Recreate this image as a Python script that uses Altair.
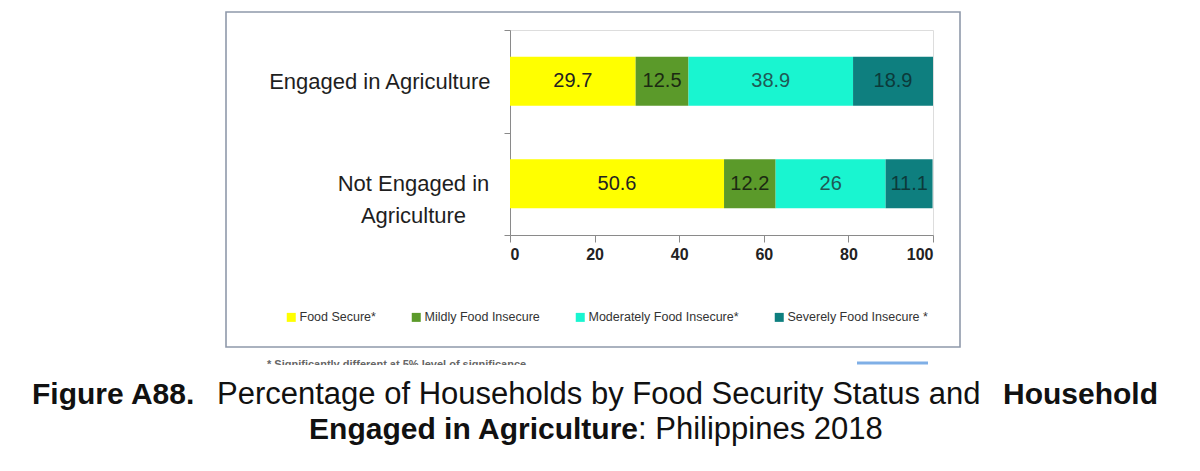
import altair as alt
import pandas as pd

groups = ["Engaged in Agriculture", "Not Engaged in Agriculture"]
statuses = ["Food Secure*", "Mildly Food Insecure", "Moderately Food Insecure*", "Severely Food Insecure *"]
engaged = [29.7, 12.5, 38.9, 18.9]
not_engaged = [50.6, 12.2, 26, 11.1]

bar_colors = ["#FFFF00", "#5B9A2A", "#19F5D0", "#0E7F7F"]
label_colors = ["#222222", "#1C2A12", "#1F5A55", "#0C3A3A"]
FONT = "Liberation Sans"

rows = []
for g, vals in zip(groups, [engaged, not_engaged]):
    for i, (s, v) in enumerate(zip(statuses, vals)):
        rows.append({"group": g, "status": s, "value": v, "order": i})
df = pd.DataFrame(rows)

y_enc = alt.Y(
    "group:N",
    sort=groups,
    title=None,
    scale=alt.Scale(paddingInner=0, paddingOuter=0),
    axis=alt.Axis(
        tickBand="extent",
        tickSize=6,
        tickColor="#8a8a8a",
        domainColor="#8a8a8a",
        labelFont=FONT,
        labelFontSize=22,
        labelColor="#1e1e1e",
        labelLimit=0,
        labelLineHeight=32,
        labelExpr="datum.value == 'Not Engaged in Agriculture' ? ['Not Engaged in', 'Agriculture'] : datum.label",
        labelAlign={"condition": {"test": "datum.value == 'Engaged in Agriculture'", "value": "right"}, "value": "center"},
        labelPadding={"condition": {"test": "datum.value == 'Engaged in Agriculture'", "value": 14}, "value": 91},
    ),
)

bars = alt.Chart(df).mark_bar(height=alt.RelativeBandSize(0.48)).encode(
    x=alt.X(
        "value:Q",
        stack="zero",
        title=None,
        scale=alt.Scale(domain=[0, 100]),
        axis=alt.Axis(
            values=[0, 20, 40, 60, 80, 100],
            grid=False,
            tickSize=7,
            tickColor="#8a8a8a",
            domainColor="#8a8a8a",
            labelFont=FONT,
            labelFontSize=16,
            labelFontWeight="bold",
            labelColor="#222222",
            labelPadding=4,
        ),
    ),
    y=y_enc,
    color=alt.Color(
        "status:N",
        sort=statuses,
        scale=alt.Scale(domain=statuses, range=bar_colors),
        legend=alt.Legend(
            title=None,
            orient="none",
            legendX=-225,
            legendY=281,
            direction="horizontal",
            symbolType="square",
            symbolSize=81,
            symbolStrokeWidth=0,
            labelFont=FONT,
            labelFontSize=12.5,
            labelColor="#333333",
            labelOffset=2,
            columnPadding=34,
            padding=0,
        ),
    ),
    order=alt.Order("order:Q"),
)

labels = alt.Chart(df).transform_stack(
    stack="value", as_=["x0", "x1"], groupby=["group"], sort=[alt.SortField("order")]
).transform_calculate(
    mid="(datum.x0 + datum.x1) / 2"
).mark_text(font=FONT, fontSize=20, baseline="middle").encode(
    x="mid:Q",
    y=alt.Y("group:N", sort=groups),
    text=alt.Text("value:Q", format="~g"),
    color=alt.Color("status:N", scale=alt.Scale(domain=statuses, range=label_colors), legend=None),
)

# frame round the chart, as in the source figure
frame = alt.Chart().mark_rect(fill=None, stroke="#8f99aa", strokeWidth=1.6).encode(
    x=alt.value(-284), x2=alt.value(450), y=alt.value(-18), y2=alt.value(317)
)

footnote = alt.Chart().mark_text(
    text="* Significantly different at 5% level of significance",
    font=FONT, fontSize=11, fontWeight="bold", color="#666666", align="left", baseline="alphabetic",
).encode(x=alt.value(-243), y=alt.value(338))
cover = alt.Chart().mark_rect(fill="white").encode(
    x=alt.value(-260), x2=alt.value(60), y=alt.value(335), y2=alt.value(345)
)
blue = alt.Chart().mark_rule(color="#5f9be0", strokeWidth=3, opacity=0.8).encode(
    x=alt.value(347), x2=alt.value(418), y=alt.value(333)
)

cap = dict(font=FONT, color="#111111", baseline="alphabetic")
cap1a = alt.Chart().mark_text(text="Figure A88.", fontSize=30, fontWeight="bold", align="left", **cap).encode(
    x=alt.value(-478), y=alt.value(374))
cap1b = alt.Chart().mark_text(
    text="Percentage of Households by Food Security Status and", fontSize=31, align="left", **cap
).encode(x=alt.value(-293), y=alt.value(374))
cap1c = alt.Chart().mark_text(text="Household", fontSize=30, fontWeight="bold", align="right", **cap).encode(
    x=alt.value(648), y=alt.value(374))
cap2a = alt.Chart().mark_text(
    text="Engaged in Agriculture", fontSize=30, fontWeight="bold", align="right", **cap
).encode(x=alt.value(128), y=alt.value(409))
cap2b = alt.Chart().mark_text(text=": Philippines 2018", fontSize=31, align="left", **cap).encode(
    x=alt.value(128), y=alt.value(409))

chart = alt.layer(
    frame, bars, labels, footnote, cover, blue, cap1a, cap1b, cap1c, cap2a, cap2b
).resolve_scale(color="independent").properties(
    width=423,
    height=205,
    autosize="none",
    padding={"left": 502, "top": 22, "right": 259, "bottom": 228},
).configure_view(stroke=None).configure(background="white")

chart.save("out.html", embed_options={"renderer": "svg", "actions": False})
